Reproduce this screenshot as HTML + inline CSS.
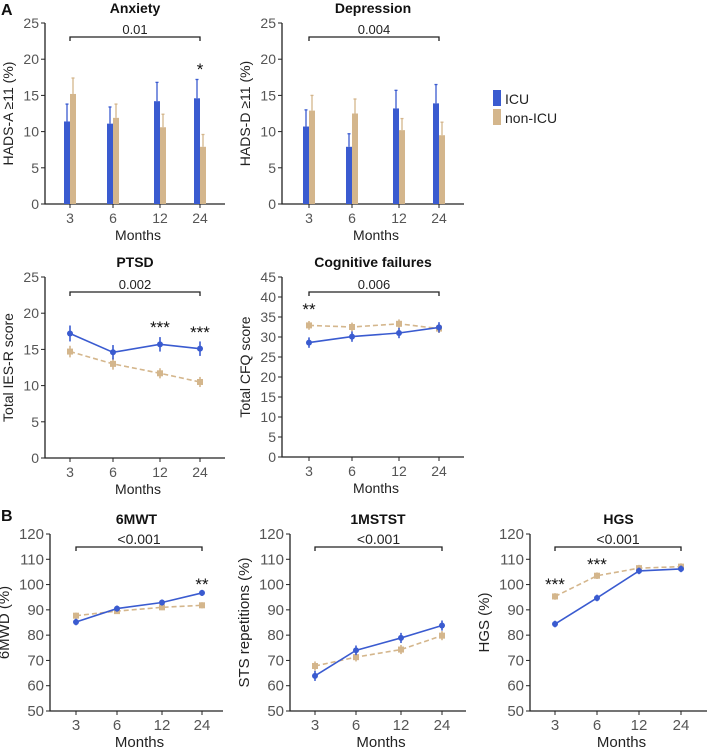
<!DOCTYPE html>
<html><head><meta charset="utf-8"><style>
body{margin:0;background:#fff;}
svg{display:block;font-family:"Liberation Sans",sans-serif;}
</style></head><body>
<svg id="fig" width="708" height="747" viewBox="0 0 708 747"></svg>
<script>
const months=["3","6","12","24"];
const anxIcu=[11.4,11.1,14.2,14.6], anxIcuErr=[2.4,2.3,2.6,2.6];
const anxNon=[15.2,11.9,10.6,7.9], anxNonErr=[2.2,1.9,1.8,1.7];
const depIcu=[10.7,7.9,13.2,13.9], depIcuErr=[2.3,1.8,2.5,2.6];
const depNon=[12.9,12.5,10.2,9.5], depNonErr=[2.1,2.0,1.6,1.8];
const ptsdIcu=[17.2,14.6,15.7,15.1], ptsdIcuErr=[1.1,1.0,1.0,1.0];
const ptsdNon=[14.7,13.0,11.7,10.5], ptsdNonErr=[0.8,0.8,0.7,0.7];
const cfqIcu=[28.6,30.1,31.0,32.4], cfqIcuErr=[1.3,1.3,1.3,1.3];
const cfqNon=[32.9,32.5,33.3,32.1], cfqNonErr=[1.1,1.1,1.1,1.1];
const mwtIcu=[85.2,90.5,92.9,96.7], mwtIcuErr=[1.3,1.2,1.2,1.2];
const mwtNon=[87.7,89.5,91.0,91.8], mwtNonErr=[1.2,1.1,1.1,1.2];
const stsIcu=[63.9,74.0,78.9,83.8], stsIcuErr=[2.0,1.9,2.0,2.0];
const stsNon=[67.8,71.3,74.3,79.8], stsNonErr=[1.8,1.7,1.8,1.8];
const hgsIcu=[84.4,94.7,105.4,106.2], hgsIcuErr=[1.3,1.3,1.3,1.3];
const hgsNon=[95.3,103.5,106.5,107.1], hgsNonErr=[1.3,1.3,1.3,1.3];

const BLUE="#3a5bd0", TAN="#d4b68c";
const svg=document.getElementById('fig');
const NS="http://www.w3.org/2000/svg";
function el(tag,attrs,text){const e=document.createElementNS(NS,tag);for(const k in attrs)e.setAttribute(k,attrs[k]);if(text!==undefined)e.textContent=text;svg.appendChild(e);return e;}

function panel(o){
  const y=v=>o.yBot-(v-o.ymin)/(o.ymax-o.ymin)*(o.yBot-o.yTop);
  const fs=o.fs||14;
  const t=el('text',{x:(o.ax+o.xEnd)/2,y:o.yTop-10,'text-anchor':'middle','font-size':14,'font-weight':'bold',fill:'#111'},o.title);
  
  const a=el('path',{d:`M${o.ax},${o.yTop} V${o.yBot} H${o.xEnd}`,stroke:'#222','stroke-width':1.3,fill:'none'});
  
  for(let v=o.ymin;v<=o.ymax+1e-9;v+=o.step){
    el('line',{x1:o.ax-4,x2:o.ax,y1:y(v),y2:y(v),stroke:'#222'});
    const tl=el('text',{x:o.ax-6,y:y(v)+5,'text-anchor':'end','font-size':fs,fill:'#555'},v);
    
  }
  months.forEach((m,i)=>{
    el('line',{x1:o.cx[i],x2:o.cx[i],y1:o.yBot,y2:o.yBot+4,stroke:'#222'});
    const tl=el('text',{x:o.cx[i],y:o.yBot+19,'text-anchor':'middle','font-size':fs,fill:'#555'},m);
    
  });
  const xt=el('text',{x:(o.ax+o.xEnd)/2+3,y:o.yBot+36,'text-anchor':'middle','font-size':fs,fill:'#222'},'Months');
  
  const ym=(o.yTop+o.yBot)/2, yx=o.ax-(o.yOff||32);
  const yt=el('text',{x:yx,y:ym,'text-anchor':'middle','font-size':fs,fill:'#222',transform:`rotate(-90 ${yx} ${ym})`},o.ylabel);
  
  const by=o.brkY;
  const b=el('path',{d:`M${o.cx[0]},${by+4} V${by} H${o.cx[3]} V${by+4}`,stroke:'#222','stroke-width':1.3,fill:'none'});
  
  const bt=el('text',{x:(o.cx[0]+o.cx[3])/2,y:by-3,'text-anchor':'middle','font-size':fs-1,fill:'#222'},o.brk);
  
  if(o.type==='bar'){
    const w=6;
    [[o.icu,o.icuE,BLUE,-1,'icu'],[o.non,o.nonE,TAN,0,'non-icu']].forEach(([vals,err,c,off,nm])=>{
      vals.forEach((v,i)=>{
        const x0=o.cx[i]+off*w;
        const r=el('rect',{x:x0,y:y(v),width:w,height:o.yBot-y(v),fill:c});
        
        el('line',{x1:x0+w/2,x2:x0+w/2,y1:y(v),y2:y(v+err[i]),stroke:c,'stroke-width':1.3});
        el('line',{x1:x0+w/2-1.5,x2:x0+w/2+1.5,y1:y(v+err[i]),y2:y(v+err[i]),stroke:c,'stroke-width':1.3});
      });
    });
  } else {
    [[o.non,o.nonE,TAN,'non-icu',true],[o.icu,o.icuE,BLUE,'icu',false]].forEach(([vals,err,c,nm,dash])=>{
      const d=vals.map((v,i)=>(i?'L':'M')+o.cx[i]+','+y(v)).join(' ');
      const p=el('path',{d:d,stroke:c,'stroke-width':1.6,fill:'none','stroke-dasharray':dash?'5,3':'none'});
      
      vals.forEach((v,i)=>{
        el('line',{x1:o.cx[i],x2:o.cx[i],y1:y(v-err[i]),y2:y(v+err[i]),stroke:c,'stroke-width':1.6});
        const m=dash?el('rect',{x:o.cx[i]-3,y:y(v)-3,width:6,height:6,fill:c}):el('circle',{cx:o.cx[i],cy:y(v),r:3,fill:c});
        
      });
    });
  }
  (o.stars||[]).forEach(s=>{
    const st=el('text',{x:o.cx[s[0]],y:s[1],'text-anchor':'middle','font-size':17,fill:'#111'},s[2]);
    
  });
}
const cxA=[70,113,160,200], cxD=[309,352,399,439];
panel({name:'anxiety',title:'Anxiety',ax:45,xEnd:225,yTop:23,yBot:204,ymin:0,ymax:25,step:5,cx:cxA,ylabel:'HADS-A ≥11 (%)',type:'bar',icu:anxIcu,icuE:anxIcuErr,non:anxNon,nonE:anxNonErr,brkY:37,brk:'0.01',stars:[[3,75,'*']]});
panel({name:'depression',title:'Depression',ax:282,xEnd:464,yTop:23,yBot:204,ymin:0,ymax:25,step:5,cx:cxD,ylabel:'HADS-D ≥11 (%)',type:'bar',icu:depIcu,icuE:depIcuErr,non:depNon,nonE:depNonErr,brkY:37,brk:'0.004'});
panel({name:'ptsd',title:'PTSD',ax:45,xEnd:225,yTop:277,yBot:458,ymin:0,ymax:25,step:5,cx:cxA,ylabel:'Total IES-R score',type:'line',icu:ptsdIcu,icuE:ptsdIcuErr,non:ptsdNon,nonE:ptsdNonErr,brkY:292,brk:'0.002',stars:[[2,333,'***'],[3,338,'***']]});
panel({name:'cognitive-failures',title:'Cognitive failures',ax:282,xEnd:464,yTop:277,yBot:457,ymin:0,ymax:45,step:5,cx:cxD,ylabel:'Total CFQ score',type:'line',icu:cfqIcu,icuE:cfqIcuErr,non:cfqNon,nonE:cfqNonErr,brkY:292,brk:'0.006',stars:[[0,315,'**']]});
panel({name:'6mwt',title:'6MWT',ax:50,xEnd:223,yTop:534,yBot:711,ymin:50,ymax:120,step:10,cx:[76,117,162,202],ylabel:'6MWD (%)',yOff:41,fs:15,type:'line',icu:mwtIcu,icuE:mwtIcuErr,non:mwtNon,nonE:mwtNonErr,brkY:547,brk:'<0.001',stars:[[3,590,'**']]});
panel({name:'1mstst',title:'1MSTST',ax:290,xEnd:466,yTop:534,yBot:711,ymin:50,ymax:120,step:10,cx:[315,356,401,442],ylabel:'STS repetitions (%)',yOff:41,fs:15,type:'line',icu:stsIcu,icuE:stsIcuErr,non:stsNon,nonE:stsNonErr,brkY:547,brk:'<0.001'});
panel({name:'hgs',title:'HGS',ax:530,xEnd:707,yTop:534,yBot:711,ymin:50,ymax:120,step:10,cx:[555,597,639,681],ylabel:'HGS (%)',yOff:41,fs:15,type:'line',icu:hgsIcu,icuE:hgsIcuErr,non:hgsNon,nonE:hgsNonErr,brkY:547,brk:'<0.001',stars:[[0,590,'***'],[1,570,'***']]});

const la=el('text',{x:1,y:15,'font-size':16,'font-weight':'bold',fill:'#111'},'A');

const lb=el('text',{x:1,y:521,'font-size':16,'font-weight':'bold',fill:'#111'},'B');

const l1=el('rect',{x:493,y:90,width:8,height:16,fill:BLUE});

const l1t=el('text',{x:505,y:104,'font-size':14,fill:'#222'},'ICU');

const l2=el('rect',{x:493,y:109,width:8,height:16,fill:TAN});

const l2t=el('text',{x:505,y:123,'font-size':14,fill:'#222'},'non-ICU');

</script>
</body></html>
